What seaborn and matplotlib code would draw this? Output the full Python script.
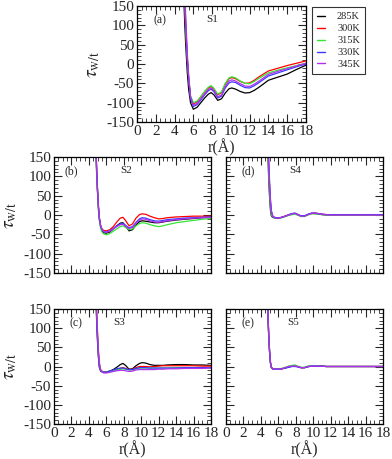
import numpy as np
import pandas as pd
import matplotlib
matplotlib.use("Agg")
import matplotlib.pyplot as plt
import seaborn as sns
from matplotlib.ticker import MultipleLocator
from matplotlib.lines import Line2D

sns.set_theme(style="ticks")
plt.rcParams['font.family'] = ['Liberation Serif', 'DejaVu Serif']
plt.rcParams['mathtext.fontset'] = 'stix'
plt.rcParams['axes.unicode_minus'] = False

temps = ["285K", "300K", "315K", "330K", "345K"]
colors = ["black", "red", "#33e633", "#3a3aff", "#b030f0"]

r = [4.7, 4.9, 5.0, 5.1, 5.2, 5.35, 5.5, 5.7, 6.0, 6.4, 6.8, 7.2, 7.6, 7.9, 8.2, 8.6, 9.0, 9.4, 9.8,
     10.1, 10.5, 11.0, 11.5, 12.0, 12.5, 13.0, 14.0, 15.0, 16.0, 17.0, 18.0]

# S1 (a)
s1_285 = [450, 230, 160, 95, 45, -20, -65, -100, -117, -112, -100, -88, -78, -74, -80, -94, -90, -75, -64,
          -62, -65, -71, -75, -74, -68, -60, -42, -34, -26, -14, -3]
s1_300 = [520, 300, 210, 135, 80, 10, -40, -85, -103, -98, -85, -72, -62, -58, -66, -80, -74, -52, -38,
          -35, -38, -45, -50, -49, -42, -33, -18, -11, -4, 2, 8]
s1_315 = [540, 320, 225, 150, 90, 15, -35, -82, -100, -96, -84, -71, -60, -56, -63, -78, -72, -50, -36,
          -33, -36, -44, -50, -51, -45, -37, -23, -16, -10, -4, 2]
s1_330 = [560, 340, 240, 160, 100, 20, -35, -88, -110, -105, -93, -80, -69, -65, -72, -88, -83, -62, -49,
          -46, -48, -55, -61, -62, -56, -48, -31, -23, -15, -7, 0]
s1_345 = [600, 370, 270, 180, 115, 30, -28, -85, -107, -102, -90, -77, -66, -62, -69, -85, -80, -58, -44,
          -41, -44, -51, -57, -58, -52, -44, -27, -19, -12, -5, 2]

# S2 (b)
s2_285 = [260, 110, 60, 20, -8, -30, -40, -46, -47, -44, -36, -28, -21, -20, -28, -41, -38, -26, -17,
          -15, -16, -18, -20, -20, -18, -16, -13, -11, -9, -7, -6]
s2_300 = [250, 100, 55, 15, -10, -28, -36, -40, -41, -38, -30, -18, -8, -6, -14, -28, -23, -8, 1,
          3, 2, -3, -7, -10, -9, -7, -5, -4, -3, -3, -3]
s2_315 = [240, 95, 50, 10, -15, -35, -44, -49, -51, -48, -42, -36, -30, -28, -32, -38, -36, -28, -22,
          -20, -21, -25, -28, -30, -28, -25, -20, -17, -14, -11, -9]
s2_330 = [255, 105, 58, 18, -10, -30, -38, -43, -44, -41, -35, -28, -23, -22, -27, -33, -30, -19, -10,
          -7, -8, -12, -15, -16, -14, -12, -10, -8, -7, -6, -5]
s2_345 = [265, 112, 62, 22, -7, -28, -37, -43, -45, -42, -36, -30, -25, -24, -29, -35, -32, -22, -13,
          -10, -11, -15, -18, -19, -17, -15, -12, -10, -8, -7, -6]

# S3 (c)
s3_285 = [260, 110, 60, 22, -2, -12, -14, -15, -14, -12, -8, -2, 5, 8, 3, -7, -6, 2, 8,
          10, 9, 5, 3, 3, 3, 4, 5, 5, 4, 4, 3]
s3_300 = [300, 140, 85, 40, 10, -8, -12, -15, -15, -13, -11, -8, -5, -3, -5, -8, -7, -3, 0,
          0, 0, -1, 0, 1, 2, 2, 2, 2, 2, 1, 1]
s3_315 = [280, 125, 72, 30, 3, -10, -13, -15, -15, -13, -11, -9, -7, -6, -7, -9, -9, -6, -4,
          -4, -4, -4, -4, -4, -4, -4, -3, -3, -3, -3, -3]
s3_330 = [270, 118, 66, 26, 0, -11, -13, -15, -15, -12, -9, -6, -4, -4, -6, -8, -8, -5, -3,
          -3, -3, -4, -4, -4, -4, -4, -4, -3, -3, -3, -3]
s3_345 = [290, 130, 78, 34, 5, -10, -14, -17, -17, -15, -13, -11, -10, -10, -11, -13, -12, -9, -8,
          -8, -8, -8, -8, -7, -7, -6, -6, -5, -5, -5, -4]

# S4 (d)
s4_285 = [230, 90, 45, 12, -2, -6, -7, -8, -8, -6, -3, 0, 3, 4, 1, -3, -3, 1, 4,
          4, 3, 1, 0, 0, 0, 0, 0, 0, 0, 0, 0]
s4_300 = [270, 120, 68, 28, 5, -4, -6, -8, -8, -6, -3, 0, 3, 4, 1, -3, -3, 1, 4,
          5, 4, 2, 1, 0, 0, 0, 0, 0, 0, 0, 0]
s4_315 = [250, 105, 56, 20, 1, -5, -7, -9, -9, -7, -4, -1, 1, 2, 0, -4, -4, 0, 3,
          3, 3, 1, 0, 0, 0, 0, 0, 0, 0, 0, 0]
s4_330 = [300, 140, 85, 40, 12, -2, -5, -7, -8, -6, -3, 1, 4, 5, 2, -2, -2, 2, 5,
          5, 4, 2, 1, 1, 1, 1, 1, 1, 1, 1, 1]
s4_345 = [285, 130, 76, 34, 9, -3, -6, -8, -8, -6, -3, 0, 3, 4, 1, -3, -3, 1, 4,
          5, 4, 2, 1, 0, 0, 0, 0, 0, 0, 0, 0]

# S5 (e)
s5_285 = [200, 75, 35, 8, -3, -6, -7, -7, -7, -6, -4, -1, 1, 2, 0, -3, -3, 0, 1,
          2, 1, 1, 0, 0, 0, 0, 0, 0, 0, 0, 0]
s5_300 = [210, 80, 38, 10, -2, -6, -7, -7, -7, -6, -3, 0, 2, 2, 0, -3, -3, 0, 1,
          2, 1, 1, 0, 0, 0, 0, 0, 0, 0, 0, 0]
s5_315 = [205, 78, 36, 9, -3, -6, -7, -7, -7, -5, -2, 1, 3, 4, 1, -2, -2, 1, 2,
          2, 2, 1, 0, 0, 0, 0, 0, 0, 0, 0, 0]
s5_330 = [215, 82, 40, 11, -2, -6, -7, -7, -7, -6, -4, -2, 0, 0, -1, -3, -3, -1, 1,
          1, 1, 1, 0, 0, 0, 0, 0, 0, 0, 0, 0]
s5_345 = [212, 81, 39, 10, -2, -6, -7, -7, -7, -6, -3, 0, 1, 1, 0, -3, -3, 0, 1,
          1, 1, 1, 0, 0, 0, 0, 0, 0, 0, 0, 0]

panels = {
    "a": ("S1", [s1_285, s1_300, s1_315, s1_330, s1_345]),
    "b": ("S2", [s2_285, s2_300, s2_315, s2_330, s2_345]),
    "c": ("S3", [s3_285, s3_300, s3_315, s3_330, s3_345]),
    "d": ("S4", [s4_285, s4_300, s4_315, s4_330, s4_345]),
    "e": ("S5", [s5_285, s5_300, s5_315, s5_330, s5_345]),
}

W, H = 392, 459
fig = plt.figure(figsize=(W / 100, H / 100), dpi=100)

def rect(x0, y0, x1, y1):
    return [x0 / W, 1 - y1 / H, (x1 - x0) / W, (y1 - y0) / H]

boxes = {
    "a": rect(137, 6, 306, 122),
    "b": rect(54, 157, 211, 273),
    "d": rect(226, 157, 383, 273),
    "c": rect(54, 309, 211, 424),
    "e": rect(226, 309, 383, 424),
}

label_pos = {"a": 0.095, "b": 0.07, "c": 0.10, "d": 0.10, "e": 0.10}
s_pos = {"a": 0.41, "b": 0.42, "c": 0.38, "d": 0.40, "e": 0.39}

for key in ["a", "b", "d", "c", "e"]:
    ax = fig.add_axes(boxes[key])
    name, series = panels[key]
    rows = []
    for t, vals in zip(temps, series):
        for rv, v in zip(r, vals):
            rows.append({"r": rv, "tau": v, "T": t})
    df = pd.DataFrame(rows)
    sns.lineplot(data=df, x="r", y="tau", hue="T", palette=dict(zip(temps, colors)),
                 ax=ax, linewidth=0.9, legend=False, sort=True)
    ax.set_xlim(0, 18)
    ax.set_ylim(-150, 150)
    ax.xaxis.set_major_locator(MultipleLocator(2))
    ax.xaxis.set_minor_locator(MultipleLocator(0.5))
    ax.yaxis.set_major_locator(MultipleLocator(50))
    ax.yaxis.set_minor_locator(MultipleLocator(10))
    ax.tick_params(which="both", direction="in", top=True, right=True, labelsize=11, pad=2)
    ax.tick_params(which="major", length=6, width=0.8)
    ax.tick_params(which="minor", length=3, width=0.6)
    for sp in ax.spines.values():
        sp.set_linewidth(0.9)
        sp.set_color("black")
    ax.set_xlabel("")
    ax.set_ylabel("")
    ax.text(label_pos[key], 0.88, f"({key})", transform=ax.transAxes, fontsize=8.5, va="center", ha="left")
    ax.text(s_pos[key], 0.88, name, transform=ax.transAxes, fontsize=8, va="center", ha="left")
    if key in ("a", "b", "c"):
        ax.set_ylabel(r"$\tau_{\mathrm{w/t}}$", fontsize=14, labelpad=3)
    else:
        ax.set_yticklabels([])
    if key in ("a", "c", "e"):
        ax.set_xlabel("r(Å)", fontsize=11.5, labelpad=1)
    else:
        ax.set_xticklabels([])

handles = [Line2D([0], [0], color=c, lw=1.0) for c in colors]
leg = fig.legend(handles, temps, loc="upper left", bbox_to_anchor=(312 / W, 1 - 7 / H),
                 frameon=True, fancybox=False, edgecolor="black", fontsize=7.5,
                 handlelength=0.7, handletextpad=1.2, borderpad=0.5, labelspacing=0.25,
                 borderaxespad=0)
leg.get_frame().set_linewidth(0.8)

fig.savefig("out.png", dpi=100)
